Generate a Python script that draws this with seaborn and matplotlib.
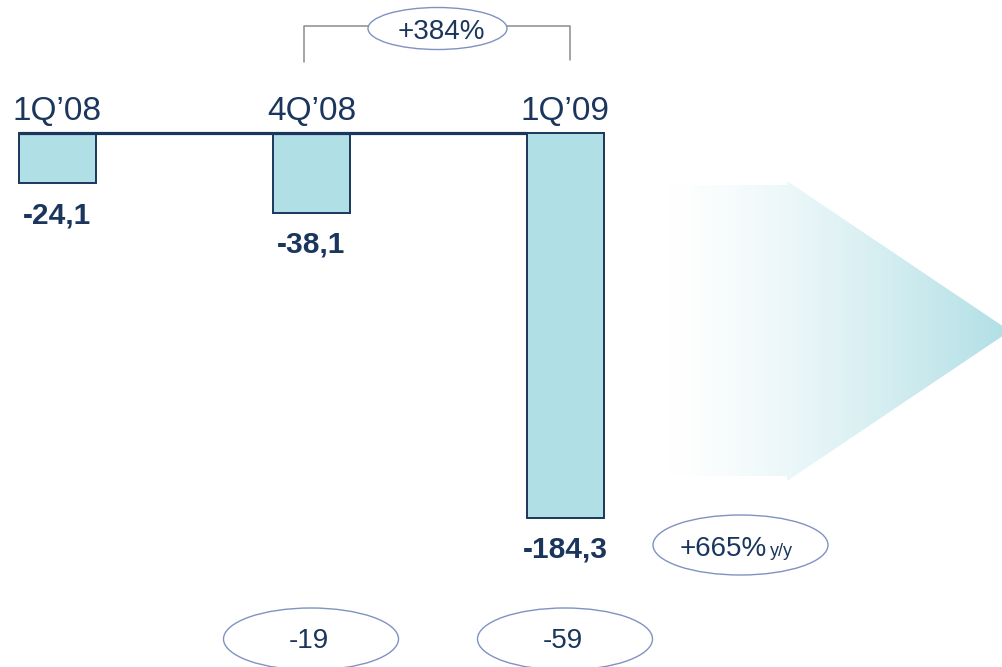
import numpy as np
import pandas as pd
import matplotlib
matplotlib.use("Agg")
import matplotlib.pyplot as plt
from matplotlib.patches import Ellipse, Polygon
import seaborn as sns

# ---- data ----
categories = ["1Q\u201908", "4Q\u201908", "1Q\u201909"]
values = [-24.1, -38.1, -184.3]
value_labels = ["-24,1", "-38,1", "-184,3"]
qoq_change = "+384%"
yoy_change = "+665%"
yoy_suffix = "y/y"
bottom_labels = ["-19", "-59"]

NAVY = "#1b365d"
TEAL = "#b0dfe5"
ELL = "#8092c2"
GREY = "#8c8c8c"

sns.set_style("white")
plt.rcParams["font.family"] = ["Liberation Sans", "DejaVu Sans"]

W, H = 1003, 667
fig = plt.figure(figsize=(W / 100, H / 100), dpi=100)
ax = fig.add_axes([0, 0, 1, 1])
ax.patch.set_alpha(0)

df = pd.DataFrame({"cat": categories, "val": values})
bw = 0.307
sns.barplot(data=df, x="cat", y="val", order=categories, color=TEAL,
            saturation=1, width=bw, edgecolor=NAVY, linewidth=1.4, ax=ax)
for p in ax.patches:
    p.set_facecolor(TEAL)

# map to pixel layout
px_per_cat = 254.0
x0 = 57.5
ax.set_xlim(-x0 / px_per_cat, (W - x0) / px_per_cat)
ypx = 385.0 / 184.3
ax.set_ylim(-(H - 133) / ypx, 133 / ypx)
ax.axis("off")

# baseline
ax.hlines(0, 0 - bw / 2, 2 - bw / 2, color=NAVY, lw=2.3, zorder=5)

for i, (c, v, lab) in enumerate(zip(categories, values, value_labels)):
    ax.annotate(c, xy=(i, 0), xytext=(0, 13), textcoords="offset pixels",
                ha="center", va="baseline", fontsize=24, color=NAVY)
    ax.annotate(lab, xy=(i, v), xytext=(0, -32), textcoords="offset pixels",
                ha="center", va="center", fontsize=21.5, fontweight="bold",
                color=NAVY)

# decoration layer in pixel coordinates
deco = fig.add_axes([0, 0, 1, 1], zorder=2)
deco.patch.set_alpha(0)

# gradient arrow
verts = [(668, 185), (787, 185), (787, 181), (1010, 331), (787, 481),
         (787, 476), (668, 476)]
poly = Polygon(verts, closed=True, facecolor="none", edgecolor="none")
deco.add_patch(poly)
g = np.linspace(0, 1, 300) ** 1.35
teal_rgb = np.array([176, 223, 229]) / 255.0
rgb = (1 - g)[:, None] * np.ones(3) + g[:, None] * teal_rgb
img = deco.imshow(rgb[np.newaxis, :, :], extent=(668, 1010, 481, 181),
                  aspect="auto", interpolation="bilinear")
img.set_clip_path(poly)

# bracket with +384%
deco.plot([304, 304, 368], [62, 26, 26], color=GREY, lw=1.1)
deco.plot([507, 570, 570], [26, 26, 60], color=GREY, lw=1.1)
deco.add_patch(Ellipse((437.5, 28.5), 139, 42, facecolor="white",
                       edgecolor=ELL, lw=1.0))
deco.text(441, 32, qoq_change, ha="center", va="center", fontsize=20,
          color=NAVY)

# +665% y/y
deco.add_patch(Ellipse((740.5, 545), 175, 60, facecolor="white",
                       edgecolor=ELL, lw=1.0))
deco.text(767, 556, yoy_change, ha="right", va="baseline", fontsize=20,
          color=NAVY)
deco.text(770, 556, yoy_suffix, ha="left", va="baseline", fontsize=13,
          color=NAVY)

# bottom ellipses
for cx, lab in zip([311, 565], bottom_labels):
    deco.add_patch(Ellipse((cx, 639), 175, 62, facecolor="white",
                           edgecolor=ELL, lw=1.0))
    deco.text(cx - 2, 641, lab, ha="center", va="center", fontsize=20,
              color=NAVY)

deco.set_xlim(0, W)
deco.set_ylim(H, 0)
deco.axis("off")

fig.savefig("out.png", dpi=100, facecolor="white")
